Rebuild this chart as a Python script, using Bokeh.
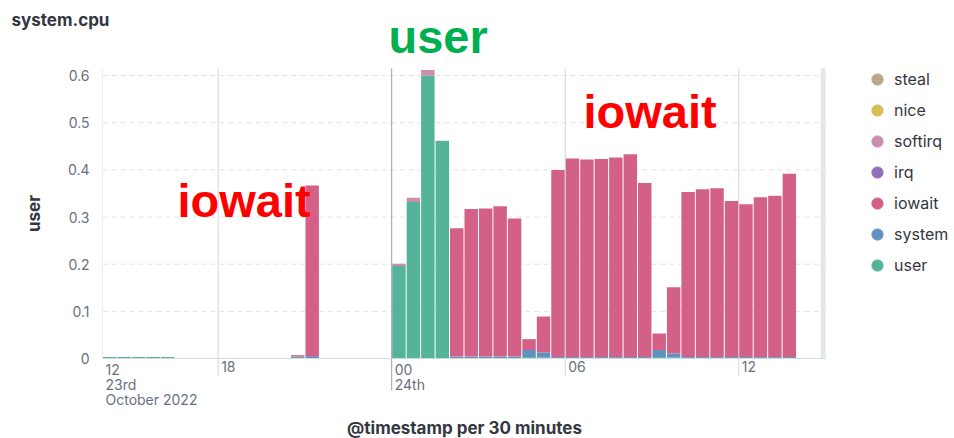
import math
import pandas as pd
from bokeh.plotting import figure
from bokeh.models import (ColumnDataSource, Range1d, Label, Legend,
                          LegendItem, BoxAnnotation)
from bokeh.embed import file_html
from bokeh.resources import INLINE

# ---------------- data (30-minute buckets from 23 Oct 2022 14:00) ----------------
start = pd.Timestamp("2022-10-23 14:00")
bucket_starts = pd.date_range(start, periods=48, freq="30min")

user = [0.003, 0.003, 0.003, 0.003, 0.003, 0, 0, 0, 0, 0, 0, 0, 0,
        0.003, 0, 0, 0, 0, 0, 0,
        0.196, 0.332, 0.600, 0.461,
        0, 0, 0, 0, 0, 0.003, 0.002,
        0, 0, 0, 0, 0, 0, 0, 0.003, 0.002,
        0, 0, 0, 0, 0, 0, 0, 0]
system = [0, 0, 0, 0, 0, 0, 0, 0, 0, 0, 0, 0, 0,
          0.001, 0.005, 0, 0, 0, 0, 0,
          0, 0, 0, 0,
          0.004, 0.004, 0.004, 0.004, 0.004, 0.015, 0.011,
          0.003, 0.003, 0.003, 0.003, 0.003, 0.003, 0.003, 0.015, 0.009,
          0.003, 0.003, 0.003, 0.003, 0.003, 0.003, 0.003, 0.003]
iowait = [0, 0, 0, 0, 0, 0, 0, 0, 0, 0, 0, 0, 0,
          0.003, 0.362, 0, 0, 0, 0, 0,
          0, 0, 0, 0,
          0.272, 0.313, 0.314, 0.319, 0.293, 0.023, 0.076,
          0.397, 0.421, 0.419, 0.420, 0.423, 0.430, 0.369, 0.035, 0.140,
          0.350, 0.356, 0.358, 0.331, 0.324, 0.339, 0.342, 0.389]
irq = [0] * 48
softirq = [0, 0, 0, 0, 0, 0, 0, 0, 0, 0, 0, 0, 0,
           0, 0, 0, 0, 0, 0, 0,
           0.005, 0.009, 0.012, 0.001,
           0, 0, 0, 0, 0, 0, 0,
           0, 0, 0, 0, 0, 0, 0, 0, 0,
           0, 0, 0, 0, 0, 0, 0, 0]
nice = [0] * 48
steal = [0] * 48

series = ["user", "system", "iowait", "irq", "softirq", "nice", "steal"]
colors = ["#54B399", "#6092C0", "#D36086", "#9170B8", "#CA8EAE", "#D6BF57", "#B9A888"]
legend_order = ["steal", "nice", "softirq", "irq", "iowait", "system", "user"]

y_ticks = [0, 0.1, 0.2, 0.3, 0.4, 0.5, 0.6]
y_tick_labels = ["0", "0.1", "0.2", "0.3", "0.4", "0.5", "0.6"]
y_max = 0.615

x_start = pd.Timestamp("2022-10-23 14:00")
x_end = pd.Timestamp("2022-10-24 15:00")
now_mark = pd.Timestamp("2022-10-24 14:50")
day_tick = pd.Timestamp("2022-10-24 00:00")
hour_ticks = [pd.Timestamp("2022-10-23 18:00"), pd.Timestamp("2022-10-24 06:00"),
              pd.Timestamp("2022-10-24 12:00")]
x_tick_times = [x_start, pd.Timestamp("2022-10-23 18:00"), day_tick,
                pd.Timestamp("2022-10-24 06:00"), pd.Timestamp("2022-10-24 12:00")]
x_tick_labels = ["12\n23rd\nOctober 2022", "18", "00\n24th", "06", "12"]


def ms(t):
    return t.value / 1e6


half_hour = 30 * 60 * 1000
source = ColumnDataSource(dict(
    x=[ms(t) + half_hour / 2 for t in bucket_starts],
    user=user, system=system, iowait=iowait, irq=irq,
    softirq=softirq, nice=nice, steal=steal))

# ---------------- layout geometry (pixels) ----------------
W, H = 954, 438
PL, PR, PT, PB = 102, 825, 68, 358          # plotting area inside the canvas
x_scale = (PR - PL) / (ms(x_end) - ms(x_start))   # px per ms
y_scale = (PB - PT) / y_max                        # px per unit
xr = Range1d(ms(x_start) - PL / x_scale, ms(x_end) + (W - PR) / x_scale)
yr = Range1d(-(H - PB) / y_scale, y_max + PT / y_scale)

p = figure(width=W, height=H, output_backend="svg", toolbar_location=None,
           x_range=xr, y_range=yr, x_axis_location=None, y_axis_location=None,
           min_border=0)
p.outline_line_color = None
p.xgrid.visible = False
p.ygrid.visible = False

# grid lines, limited to the plotting area (tick lines continue below the axis)
gx0, gx1 = ms(x_start), ms(x_end)
p.segment(x0=[gx0] * 6, x1=[gx1] * 6, y0=y_ticks[1:], y1=y_ticks[1:],
          line_color="#e0e3e8", line_dash="5 4", line_width=1)
p.segment(x0=[gx0], x1=[gx0], y0=[0], y1=[y_max], line_color="#eceef1")
hx = [ms(t) for t in hour_ticks]
p.segment(x0=hx, x1=hx, y0=[-17 / y_scale] * 3, y1=[y_max] * 3,
          line_color="#d3d6db", line_width=1)
p.segment(x0=[ms(day_tick)], x1=[ms(day_tick)], y0=[-32 / y_scale], y1=[y_max],
          line_color="#9a9ea6", line_width=1)
p.add_layout(BoxAnnotation(left=ms(now_mark), right=ms(x_end), bottom=0, top=y_max,
                           fill_color="#e3e6eb", fill_alpha=1, line_color=None))

p.vbar_stack(series, x="x", width=half_hour * 0.93, color=colors, source=source,
             line_color=None)

# x baseline
p.segment(x0=[gx0], x1=[gx1], y0=[0], y1=[0], line_color="#c9dfd9", line_width=1.2)

FONT = "Inter"
GREY = "#69707D"
DARK = "#343741"

# y tick labels
for t, s in zip(y_ticks, y_tick_labels):
    p.add_layout(Label(x=PL - 13, y=t, x_units="screen", y_units="data", text=s,
                       text_font=FONT, text_font_size="14px", text_color=GREY,
                       text_align="right", text_baseline="middle"))

# y axis title
p.add_layout(Label(x=33, y=y_max / 2, x_units="screen", y_units="data", text="user",
                   angle=math.pi / 2, text_font=FONT, text_font_size="17px",
                   text_font_style="bold", text_color=DARK,
                   text_align="center", text_baseline="middle"))

# x tick labels (left aligned next to each tick, as in the source chart)
for t, s in zip(x_tick_times, x_tick_labels):
    p.add_layout(Label(x=ms(t), y=H - 360, x_units="data", y_units="screen", x_offset=3,
                       text=s, text_font=FONT, text_font_size="14px",
                       text_color=GREY, text_align="left", text_baseline="top",
                       text_line_height=0.9))

# x axis title
p.add_layout(Label(x=464, y=H - 427, x_units="screen", y_units="screen",
                   text="@timestamp per 30 minutes", text_font=FONT,
                   text_font_size="17px", text_font_style="bold", text_color=DARK,
                   text_align="center", text_baseline="middle"))

# chart title
p.add_layout(Label(x=11, y=H - 9, x_units="screen", y_units="screen",
                   text="system.cpu", text_font=FONT, text_font_size="17px",
                   text_font_style="bold", text_color=DARK,
                   text_align="left", text_baseline="top"))

# big annotations
p.add_layout(Label(x=388, y=H - 36, x_units="screen", y_units="screen", text="user",
                   text_font="Liberation Sans", text_font_size="47px",
                   text_font_style="bold", text_color="#00B050",
                   text_align="left", text_baseline="alphabetic"))
p.add_layout(Label(x=177, y=H - 200, x_units="screen", y_units="screen", text="iowait",
                   text_font="Liberation Sans", text_font_size="47px",
                   text_font_style="bold", text_color="#FF0000",
                   text_align="left", text_baseline="alphabetic"))
p.add_layout(Label(x=583, y=H - 111, x_units="screen", y_units="screen", text="iowait",
                   text_font="Liberation Sans", text_font_size="47px",
                   text_font_style="bold", text_color="#FF0000",
                   text_align="left", text_baseline="alphabetic"))

# legend with round markers (renderers hold no visible points)
items = []
for name in legend_order:
    c = colors[series.index(name)]
    r = p.scatter(x=[float("nan")], y=[float("nan")], marker="circle", size=11,
                  fill_color=c, line_color=c)
    items.append(LegendItem(label=name, renderers=[r], index=0))
legend = Legend(items=items, location=(863, H - 279), orientation="vertical",
                glyph_width=28, glyph_height=28, label_height=28, spacing=3,
                padding=0, margin=0, border_line_color=None, background_fill_alpha=0,
                label_text_font=FONT, label_text_font_size="16px",
                label_text_color=DARK, label_standoff=3)
p.add_layout(legend, "center")

open("out.html", "w").write(file_html(p, INLINE))
